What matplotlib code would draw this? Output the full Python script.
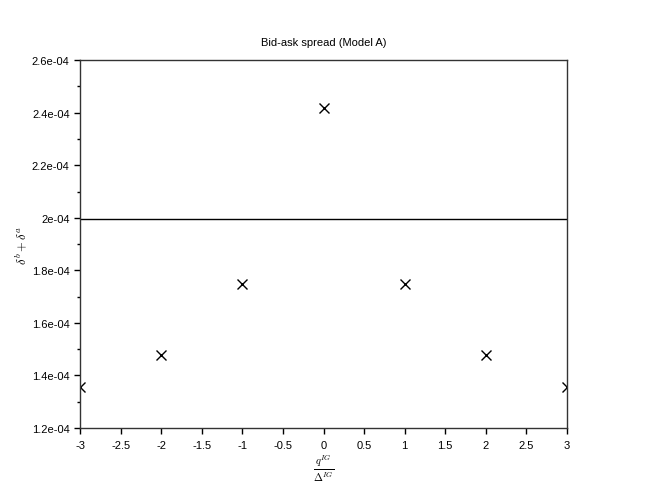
import matplotlib
matplotlib.use("Agg")
import matplotlib.pyplot as plt
from matplotlib.ticker import MultipleLocator, FuncFormatter, AutoMinorLocator

plt.rcParams['font.family'] = ['Liberation Sans', 'DejaVu Sans']
plt.rcParams['mathtext.fontset'] = 'cm'

q_ratio = [-3, -2, -1, 0, 1, 2, 3]
spread = [1.356e-4, 1.477e-4, 1.747e-4, 2.417e-4, 1.747e-4, 1.477e-4, 1.356e-4]
reference_level = 1.997e-4


def sci_fmt(v, pos):
    m, e = f"{v:.1e}".split("e")
    m = m.rstrip("0").rstrip(".")
    return f"{m}e{e}"


fig = plt.figure(figsize=(6.48, 4.89), dpi=100)
ax = fig.add_axes([0.1235, 0.1227, 0.7515, 0.7523])

ax.plot(q_ratio, spread, linestyle='none', marker='x', color='black',
        markersize=7, markeredgewidth=1.0)
ax.axhline(reference_level, color='black', linewidth=1.0)

ax.set_xlim(-3, 3)
ax.set_ylim(1.2e-4, 2.6e-4)
ax.xaxis.set_major_locator(MultipleLocator(0.5))
ax.yaxis.set_major_locator(MultipleLocator(0.2e-4))
ax.yaxis.set_minor_locator(AutoMinorLocator(2))
ax.yaxis.set_major_formatter(FuncFormatter(sci_fmt))
ax.xaxis.set_major_formatter(FuncFormatter(lambda v, p: f"{v:g}"))

ax.tick_params(axis='both', which='major', direction='out', length=4,
               width=1.0, labelsize=8, top=False, right=False, colors='black')
ax.tick_params(axis='x', which='major', pad=5)
ax.tick_params(axis='y', which='minor', direction='out', length=2, width=1.0)
for s in ax.spines.values():
    s.set_linewidth(1.0)
    s.set_color('#333333')

ax.set_title('Bid-ask spread (Model A)', fontsize=8, pad=11)
ax.set_xlabel(r'$\frac{q^{IG}}{\Delta^{IG}}$', fontsize=11, labelpad=1)
ax.set_ylabel(r'$\delta^b + \delta^a$', fontsize=9, labelpad=2)

fig.savefig('out.png', dpi=100)
